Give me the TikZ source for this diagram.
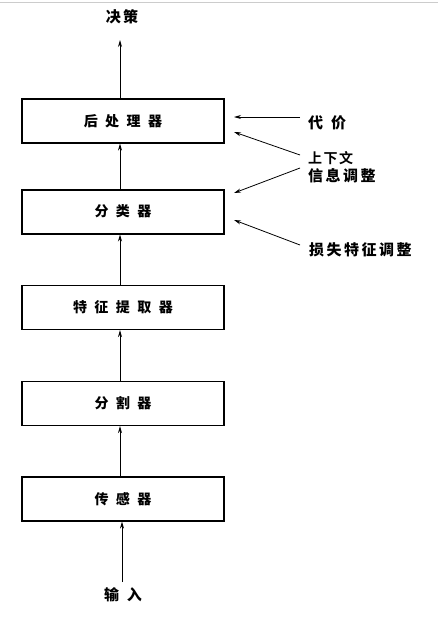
\documentclass[tikz,border=0pt]{standalone}
\usepackage{fontspec}
\newfontfamily\cjk{Noto Sans CJK SC Black}
\newfontfamily\cjkb{Noto Sans CJK SC Bold}
\usetikzlibrary{arrows.meta}
\newcommand\bgap{\hspace{7.5pt}}
\newcommand\lgap{\hspace{2.5pt}}
\begin{document}
\begin{tikzpicture}[x=1pt,y=-1pt,
  box/.style={draw,line width=1.2pt,minimum width=202pt,minimum height=44pt,inner sep=0pt,font=\cjk\fontsize{14}{16}\selectfont},
  thickbox/.style={box,line width=2pt},
  lbl/.style={font=\cjk\fontsize{15}{18}\selectfont,inner sep=0pt},
  arr/.style={-{Stealth[length=7pt,width=4pt]},line width=0.8pt}]
\useasboundingbox[fill=white] (0,0) rectangle (438,621);
\draw[gray!40,line width=1pt] (0,2) -- (438,2);
\node[lbl] (out) at (122,17) {决\lgap 策};
\node[box] (post) at (123,121) {后\bgap 处\bgap 理\bgap 器};
\node[thickbox] (cls) at (123,211.5) {分\bgap 类\bgap 器};
\node[box] (feat) at (123,307.5) {特\bgap 征\bgap 提\bgap 取\bgap 器};
\node[box] (seg) at (123,403.5) {分\bgap 割\bgap 器};
\node[box] (sens) at (123,499) {传\bgap 感\bgap 器};
\node[lbl] (in) at (123,595) {输\hspace{8pt}入};
\node[lbl,anchor=west] (cost) at (308,123) {代\hspace{8pt}价};
\node[lbl,anchor=west,align=left] (ctx) at (308,167) {{\cjkb\fontsize{14}{17}\selectfont 上\hspace{1.5pt}下\hspace{1.5pt}文}\\信\lgap 息\lgap 调\lgap 整};
\node[lbl,anchor=west] (loss) at (309,250) {损\lgap 失\lgap 特\lgap 征\lgap 调\lgap 整};
\coordinate (ax) at (120,0);
\coordinate (outB) at (120,40);
\coordinate (inT) at (122,582);
\draw[arr] (post.north -| ax) -- (outB);
\draw[arr] (cls.north -| ax) -- (post.south -| ax);
\draw[arr] (feat.north -| ax) -- (cls.south -| ax);
\draw[arr] (seg.north -| ax) -- (feat.south -| ax);
\draw[arr] (sens.north -| ax) -- (seg.south -| ax);
\draw[arr] (inT) -- (sens.south -| inT);
\coordinate (c1) at (300,117);
\coordinate (c1e) at (234,117);
\draw[arr] (c1) -- (c1e);
\coordinate (c2) at (300,155);
\coordinate (c2e) at (234,132);
\draw[arr] (c2) -- (c2e);
\coordinate (c3) at (300,168);
\coordinate (c3e) at (234,193);
\draw[arr] (c3) -- (c3e);
\coordinate (c4) at (300,245);
\coordinate (c4e) at (234,220);
\draw[arr] (c4) -- (c4e);
\end{tikzpicture}
\end{document}
